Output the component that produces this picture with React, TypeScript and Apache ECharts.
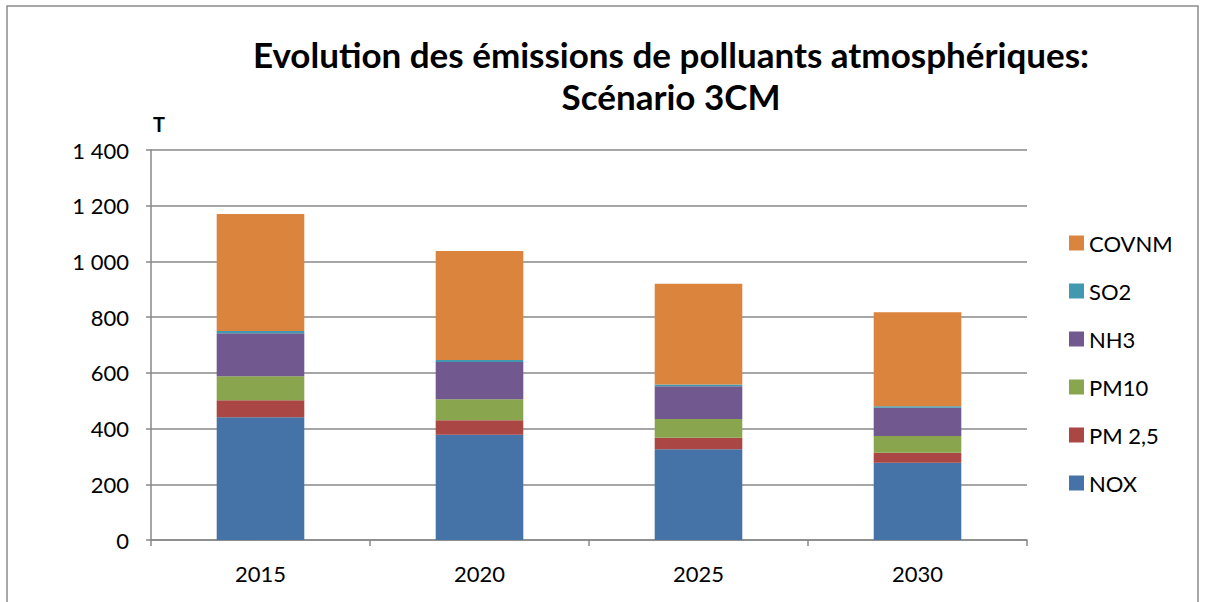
import React, { useEffect, useRef } from "react";
import * as echarts from "echarts";

const years = ["2015", "2020", "2025", "2030"];
const nox = [441, 378, 326, 277];
const pm25 = [61, 52, 41, 36];
const pm10 = [86, 75, 67, 60];
const nh3 = [154, 134, 118, 102];
const so2 = [8, 7, 6, 5];
const covnm = [420, 391, 362, 338];
const yTicks = [0, 200, 400, 600, 800, 1000, 1200, 1400];

const seriesDefs = [
  { name: "NOX", data: nox, color: "#4572A7" },
  { name: "PM 2,5", data: pm25, color: "#AA4643" },
  { name: "PM10", data: pm10, color: "#89A54E" },
  { name: "NH3", data: nh3, color: "#71588F" },
  { name: "SO2", data: so2, color: "#4198AF" },
  { name: "COVNM", data: covnm, color: "#DB843D" },
];

const FONT = "Lato, 'Liberation Sans', sans-serif";

function fmt(v: number): string {
  const s = String(v);
  return s.length > 3 ? s.slice(0, s.length - 3) + " " + s.slice(-3) : s;
}

export default function App() {
  const ref = useRef<HTMLDivElement>(null);
  useEffect(() => {
    if (!ref.current) return;
    const chart = echarts.init(ref.current, undefined, { renderer: "svg" });
    chart.setOption({
      animation: false,
      backgroundColor: "#ffffff",
      title: {
        text: "Evolution des émissions de polluants atmosphériques:\nScénario 3CM",
        left: 666,
        textAlign: "center",
        top: 28,
        textStyle: {
          fontFamily: FONT,
          fontWeight: "bold",
          fontSize: 35,
          lineHeight: 42,
          color: "#000",
        },
      },
      graphic: [
        {
          type: "rect",
          shape: { x: 7, y: 6, width: 1191, height: 600 },
          style: { fill: "none", stroke: "#8c8c8c", lineWidth: 1.5 },
          silent: true,
        },
      ],
      legend: {
        orient: "vertical",
        left: 1069,
        top: 232,
        padding: 0,
        itemWidth: 15,
        itemHeight: 15,
        itemGap: 26,
        icon: "rect",
        data: ["COVNM", "SO2", "NH3", "PM10", "PM 2,5", "NOX"],
        textStyle: { fontFamily: FONT, fontSize: 22, color: "#000" },
      },
      grid: { left: 151, right: 179, top: 150, bottom: 62 },
      xAxis: {
        type: "category",
        data: years,
        axisLine: { lineStyle: { color: "#888", width: 1.5 } },
        axisTick: { show: true, length: 6, lineStyle: { color: "#888", width: 1.5 } },
        axisLabel: { fontFamily: FONT, fontSize: 22, color: "#000", margin: 22 },
      },
      yAxis: {
        type: "value",
        min: yTicks[0],
        max: yTicks[yTicks.length - 1],
        interval: 200,
        name: "T",
        nameLocation: "end",
        nameGap: 16,
        nameTextStyle: {
          fontFamily: FONT,
          fontWeight: "bold",
          fontSize: 20,
          color: "#000",
          align: "left",
          padding: [0, 0, 0, 2],
        },
        axisLine: { show: true, lineStyle: { color: "#888", width: 1.5 } },
        axisTick: { show: true, length: 5, lineStyle: { color: "#888", width: 1.5 } },
        axisLabel: {
          fontFamily: FONT,
          fontSize: 22,
          color: "#000",
          margin: 22,
          formatter: (v: number) => fmt(v),
        },
        splitLine: { lineStyle: { color: "#888", width: 1.5 } },
      },
      series: seriesDefs.map((s) => ({
        name: s.name,
        type: "bar",
        stack: "total",
        barWidth: "40%",
        data: s.data,
        itemStyle: { color: s.color },
      })),
    });
    return () => chart.dispose();
  }, []);
  return (
    <div
      ref={ref}
      style={{ position: "fixed", left: 0, top: 0, width: 1206, height: 602 }}
    />
  );
}
